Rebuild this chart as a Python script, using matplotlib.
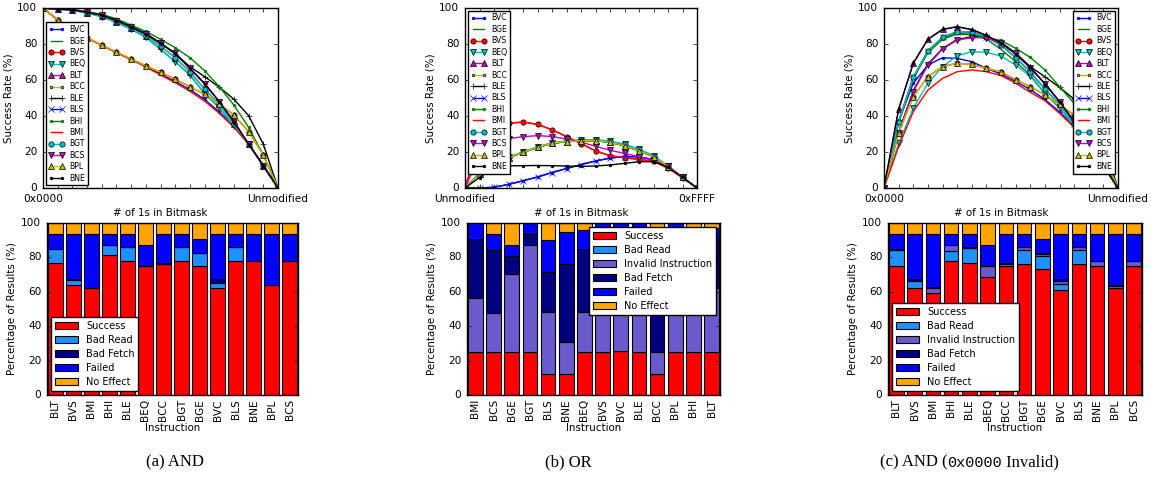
import numpy as np
import matplotlib
matplotlib.use('Agg')
import matplotlib.pyplot as plt

plt.style.use('classic')
plt.rcParams['font.family'] = ['DejaVu Sans']
plt.rcParams['font.size'] = 7.4
plt.rcParams['xtick.labelsize'] = 7.6
plt.rcParams['ytick.labelsize'] = 7.6
plt.rcParams['xtick.major.size'] = 3
plt.rcParams['ytick.major.size'] = 3

# --- line charts: success rate vs number of 1s in the bitmask ---
bits = np.arange(17)
series = ['BVC', 'BGE', 'BVS', 'BEQ', 'BLT', 'BCC', 'BLE', 'BLS', 'BHI', 'BMI', 'BGT', 'BCS', 'BPL', 'BNE']

# (a) AND
and_bhi = [100, 99.5, 99.2, 98.0, 96.5, 94.0, 90.5, 87.0, 82.6, 78.0, 72.4, 65.2, 56.3, 46.0, 33.7, 18.3, 0]
and_ble = [100, 99.5, 99.1, 97.8, 96.2, 93.4, 89.8, 85.8, 80.6, 74.6, 67.4, 61.9, 56.0, 49.3, 40.2, 24.4, 0]
and_hi = [100, 99.4, 99.0, 97.6, 96.0, 93.0, 89.5, 85.5, 80.4, 74.8, 66.5, 58.0, 48.0, 36.8, 24.4, 12.4, 0]
and_mid = [100, 99.4, 98.9, 97.4, 95.6, 92.5, 88.8, 84.6, 78.8, 72.5, 64.5, 55.0, 46.5, 35.5, 24.4, 12.4, 0]
and_lo = [100, 99.3, 98.8, 97.2, 95.2, 92.0, 88.2, 83.8, 77.0, 70.2, 62.8, 52.5, 44.5, 34.4, 24.4, 12.4, 0]
and_orange = [100, 93.5, 88.5, 83.5, 79.3, 75.5, 71.7, 67.9, 64.3, 60.4, 56.3, 52.0, 46.7, 40.6, 31.3, 18.3, 0]
and_bmi = [100, 93.4, 88.3, 83.3, 79.1, 75.2, 71.3, 67.3, 62.8, 58.5, 53.8, 48.3, 41.5, 33.7, 24.4, 12.4, 0]
and_bvc = [100, 93.4, 88.4, 83.4, 79.2, 75.3, 71.5, 67.6, 63.3, 59.2, 54.7, 49.2, 42.3, 34.2, 24.6, 12.5, 0]
and_curves = {'BVC': and_bvc, 'BGE': and_lo, 'BVS': and_orange, 'BEQ': and_lo, 'BLT': and_mid,
              'BCC': and_mid, 'BLE': and_ble, 'BLS': and_hi, 'BHI': and_bhi, 'BMI': and_bmi,
              'BGT': and_mid, 'BCS': and_hi, 'BPL': and_orange, 'BNE': and_hi}

# (b) OR
or_red = [0, 26.0, 33.0, 36.0, 36.6, 35.4, 32.3, 28.6, 24.7, 20.6, 18.0, 16.8, 15.9, 14.9, 11.0, 5.8, 0]
or_mag = [0, 18.0, 24.0, 27.4, 28.5, 29.1, 28.6, 27.2, 25.5, 23.2, 21.0, 19.2, 17.4, 15.5, 12.0, 6.0, 0]
or_group = [0, 8.0, 13.0, 16.8, 19.8, 22.6, 24.8, 25.8, 26.3, 26.3, 25.4, 23.5, 20.6, 17.4, 11.9, 5.9, 0]
or_group_b = [0, 8.0, 13.2, 17.0, 20.0, 22.8, 25.0, 26.1, 26.7, 26.8, 26.0, 24.3, 21.5, 18.0, 12.2, 6.0, 0]
or_blue = [0, 0, 0.4, 2.0, 4.0, 6.1, 8.6, 10.8, 13.0, 15.0, 16.6, 17.5, 17.3, 15.8, 11.5, 6.0, 0]
or_bne = [0, 5.8, 11.5, 12.3, 12.4, 12.5, 12.4, 12.2, 12.0, 12.2, 12.8, 13.7, 14.6, 14.6, 11.7, 5.9, 0]
or_curves = {'BVC': or_blue, 'BGE': or_group, 'BVS': or_red, 'BEQ': or_group_b, 'BLT': or_group,
             'BCC': or_group, 'BLE': or_group, 'BLS': or_blue, 'BHI': or_group, 'BMI': or_red,
             'BGT': or_group_b, 'BCS': or_mag, 'BPL': or_group, 'BNE': or_bne}

# (c) AND, 0x0000 invalid
inv_top = [0, 43.7, 69.3, 82.6, 88.1, 89.6, 88.0, 84.8, 80.5, 74.5, 67.0, 58.0, 48.0, 37.0, 24.4, 12.4, 0]
inv_bgt = [0, 36.9, 61.5, 76.1, 83.7, 86.9, 86.7, 84.0, 79.3, 72.5, 64.5, 55.0, 46.5, 35.5, 24.4, 12.4, 0]
inv_bhi = [0, 36.5, 61.0, 75.5, 83.0, 86.0, 85.4, 83.5, 82.0, 77.6, 72.6, 65.6, 56.3, 47.0, 34.0, 18.3, 0]
inv_bge = [0, 36.3, 60.8, 75.2, 82.6, 85.6, 85.0, 82.8, 77.0, 70.2, 62.8, 52.5, 44.5, 34.4, 24.4, 12.4, 0]
inv_bcs = [0, 30.7, 53.5, 68.3, 77.2, 82.2, 83.5, 83.5, 80.5, 74.8, 66.5, 58.0, 48.0, 36.8, 24.4, 12.4, 0]
inv_ble = [0, 31.0, 54.0, 68.8, 77.5, 82.5, 84.0, 83.6, 81.0, 75.0, 67.4, 61.8, 56.0, 49.3, 40.2, 24.4, 0]
inv_beq = [0, 24.8, 44.3, 58.2, 67.4, 73.5, 75.7, 75.4, 73.3, 68.3, 62.0, 52.5, 44.5, 34.4, 24.4, 12.4, 0]
inv_bvc = [0, 37.0, 58.2, 68.3, 72.4, 72.0, 70.2, 66.5, 63.3, 59.2, 54.7, 49.2, 42.3, 34.2, 24.6, 12.5, 0]
inv_orange = [0, 30.7, 50.7, 61.9, 67.4, 69.3, 68.7, 66.5, 64.5, 60.2, 56.3, 51.8, 46.5, 40.5, 31.3, 18.3, 0]
inv_bmi = [0, 23.0, 42.4, 54.4, 60.9, 64.6, 65.6, 64.6, 62.5, 58.2, 53.2, 48.5, 41.5, 33.7, 24.4, 12.4, 0]
inv_curves = {'BVC': inv_bvc, 'BGE': inv_bge, 'BVS': inv_orange, 'BEQ': inv_beq, 'BLT': inv_top,
              'BCC': inv_bgt, 'BLE': inv_ble, 'BLS': inv_bgt, 'BHI': inv_bhi, 'BMI': inv_bmi,
              'BGT': inv_bgt, 'BCS': inv_bcs, 'BPL': inv_orange, 'BNE': inv_top}

line_colors = ['b', 'g', 'r', 'c', 'm', 'y', 'k', 'b', 'g', 'r', 'c', 'm', 'y', 'k']
line_markers = ['.', '', 'o', 'v', '^', '.', '+', 'x', '.', '', 'o', 'v', '^', '.']
line_edges = ['b', 'g', 'k', 'k', 'k', 'k', 'k', 'b', 'g', 'r', 'k', 'k', 'k', 'k']

# --- stacked bars: outcome breakdown per instruction ---
and_instr = ['BLT', 'BVS', 'BMI', 'BHI', 'BLE', 'BEQ', 'BCC', 'BGT', 'BGE', 'BVC', 'BLS', 'BNE', 'BPL', 'BCS']
and_success = [76.5, 63.75, 62.0, 81.25, 78.0, 75.0, 76.0, 78.0, 75.0, 62.0, 78.0, 78.0, 63.75, 78.0]
and_bad_read = [8.5, 3.25, 0, 6.25, 8.0, 0, 0, 8.0, 7.5, 3.25, 8.0, 0, 0, 0]
and_bad_fetch = [0, 0.25, 0.5, 0, 0, 0, 0.5, 0, 0, 2.0, 0, 0, 0, 0]
and_failed = [8.75, 26.5, 31.25, 6.25, 7.75, 12.5, 17.25, 7.75, 8.25, 26.5, 7.75, 15.75, 30.0, 15.75]
and_no_effect = [6.25, 6.25, 6.25, 6.25, 6.25, 12.5, 6.25, 6.25, 9.25, 6.25, 6.25, 6.25, 6.25, 6.25]

or_instr = ['BMI', 'BCS', 'BGE', 'BGT', 'BLS', 'BNE', 'BEQ', 'BVS', 'BVC', 'BLE', 'BCC', 'BPL', 'BHI', 'BLT']
or_success = [25, 25, 25, 25, 12.5, 12.5, 25, 25, 25.5, 25, 12.5, 25, 25, 25]
or_bad_read = [0] * 14
or_invalid = [31.25, 22.5, 45.25, 62.5, 36.0, 18.25, 23.25, 37.5, 37.0, 37.5, 12.75, 37.5, 37.5, 37.5]
or_bad_fetch = [34.5, 36.75, 10.75, 6.25, 23.0, 45.5, 36.75, 31.25, 31.25, 31.25, 58.75, 31.25, 28.5, 28.5]
or_failed = [9.25, 9.5, 6.5, 6.25, 18.75, 18.75, 11.0, 6.25, 6.25, 6.25, 13.0, 6.25, 6.0, 6.0]
or_no_effect = [0, 6.25, 12.5, 0, 9.75, 5.0, 4.0, 0, 0, 0, 3.0, 0, 3.0, 3.0]

inv_instr = and_instr
inv_success = [75.25, 62.0, 59.25, 78.0, 77.0, 68.5, 74.75, 76.25, 73.25, 61.25, 76.25, 74.75, 62.0, 74.75]
inv_bad_read = [9.0, 4.0, 0, 6.0, 8.25, 0, 0, 8.25, 7.75, 3.5, 8.25, 0, 0, 0]
inv_invalid = [0.25, 0.75, 3.25, 3.5, 0, 6.25, 1.5, 1.5, 1.25, 1.25, 1.5, 3.0, 1.25, 3.0]
inv_bad_fetch = [0.5, 0.75, 0.5, 0, 0.75, 0.25, 0.5, 0, 0.5, 1.5, 0, 0.25, 0.5, 0.25]
inv_failed = [8.75, 26.25, 30.75, 6.25, 7.75, 12.5, 17.0, 7.75, 7.75, 26.25, 7.75, 15.75, 30.0, 15.75]
inv_no_effect = [6.25, 6.25, 6.25, 6.25, 6.25, 12.5, 6.25, 6.25, 9.5, 6.25, 6.25, 6.25, 6.25, 6.25]

outcome_colors = {'Success': '#ff0000', 'Bad Read': '#1e90ff', 'Invalid Instruction': '#6a5acd',
                  'Bad Fetch': '#000080', 'Failed': '#0000ff', 'No Effect': '#ffa500'}


def line_panel(ax, curves, left_label, right_label, legend_loc):
    for name, c, m, e in zip(series, line_colors, line_markers, line_edges):
        ax.plot(bits, curves[name], color=c, marker=m, ms=3.8, mec=e, mew=0.5, lw=1, label=name)
    ax.set_xlim(0, 16)
    ax.set_ylim(0, 100)
    ax.set_xticks(bits)
    ax.set_xticklabels([left_label] + [''] * 15 + [right_label])
    ax.set_yticks(range(0, 101, 20))
    ax.set_xlabel('# of 1s in Bitmask', labelpad=3)
    ax.set_ylabel('Success Rate (%)', labelpad=3)
    ax.legend(loc=legend_loc, fontsize=5.6, numpoints=2, labelspacing=0.31,
              handlelength=2.0, handletextpad=0.7, borderpad=0.35, borderaxespad=0.35)


def bar_panel(ax, names, segments, legend_loc):
    x = np.arange(len(names))
    bottom = np.zeros(len(names))
    for label, vals in segments:
        vals = np.array(vals, dtype=float)
        ax.bar(x, vals, 0.8, bottom=bottom, color=outcome_colors[label],
               edgecolor='k', lw=0.8, label=label)
        bottom += vals
    ax.set_xlim(-0.46, len(names) - 0.54)
    ax.set_ylim(0, 100)
    ax.set_xticks(x)
    ax.set_xticklabels(names, rotation=90)
    ax.tick_params(axis='x', which='both', top=False, bottom=False, pad=3)
    ax.set_yticks(range(0, 101, 20))
    ax.set_xlabel('Instruction', labelpad=1)
    ax.set_ylabel('Percentage of Results (%)', labelpad=3)
    ax.legend(loc=legend_loc, fontsize=7, handlelength=2.4, labelspacing=0.42,
              borderpad=0.4, borderaxespad=0.4)


W, H = 1151, 480
fig = plt.figure(figsize=(W / 100, H / 100), dpi=100, facecolor='white')


def box(l, r, t, b):
    return [l / W, 1 - b / H, (r - l) / W, (b - t) / H]


ax1 = fig.add_axes(box(43, 278, 8, 188))
ax2 = fig.add_axes(box(465, 697, 8, 188))
ax3 = fig.add_axes(box(884, 1118, 8, 188))
ax4 = fig.add_axes(box(47, 298, 223, 395))
ax5 = fig.add_axes(box(467, 720, 223, 395))
ax6 = fig.add_axes(box(888, 1142, 223, 395))

line_panel(ax1, and_curves, '0x0000', 'Unmodified', 'lower left')
line_panel(ax2, or_curves, 'Unmodified', '0xFFFF', 'upper left')
line_panel(ax3, inv_curves, '0x0000', 'Unmodified', 'upper right')

bar_panel(ax4, and_instr, [('Success', and_success), ('Bad Read', and_bad_read),
                           ('Bad Fetch', and_bad_fetch), ('Failed', and_failed),
                           ('No Effect', and_no_effect)], 'lower left')
bar_panel(ax5, or_instr, [('Success', or_success), ('Bad Read', or_bad_read),
                          ('Invalid Instruction', or_invalid), ('Bad Fetch', or_bad_fetch),
                          ('Failed', or_failed), ('No Effect', or_no_effect)], 'upper right')
bar_panel(ax6, inv_instr, [('Success', inv_success), ('Bad Read', inv_bad_read),
                           ('Invalid Instruction', inv_invalid), ('Bad Fetch', inv_bad_fetch),
                           ('Failed', inv_failed), ('No Effect', inv_no_effect)], 'lower left')

# sub-figure captions
serif = ['Liberation Serif', 'DejaVu Serif']
cap_y = 1 - 462 / H
fig.text(175 / W, cap_y, '(a) AND', family=serif, fontsize=12, ha='center', va='center')
fig.text(568 / W, cap_y, '(b) OR', family=serif, fontsize=12, ha='center', va='center')
t1 = fig.text(880 / W, cap_y, '(c) AND (', family=serif, fontsize=12, ha='left', va='center')
t2 = fig.text(0, 0, '0x0000', family=['Liberation Mono', 'DejaVu Sans Mono'], fontsize=11)
t3 = fig.text(0, 0, ' Invalid)', family=serif, fontsize=12)
fig.canvas.draw()
r = fig.canvas.get_renderer()
b1 = t1.get_window_extent(r)
t2.set_position((b1.x1 / W, b1.y0 / H))
t2.set_va('bottom')
fig.canvas.draw()
b2 = t2.get_window_extent(r)
t3.set_position((b2.x1 / W, b1.y0 / H))
t3.set_va('bottom')

fig.savefig('out.png', dpi=100, facecolor='white')
